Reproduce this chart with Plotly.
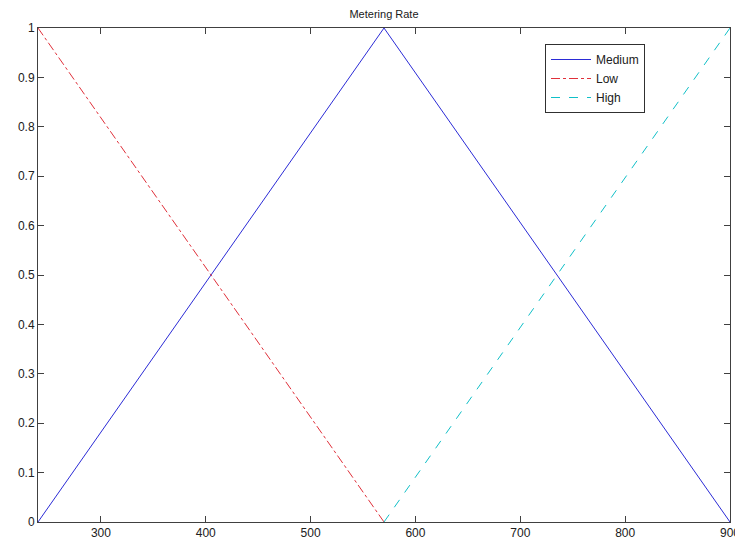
import plotly.graph_objects as go

x_medium = [240, 570, 900]
y_medium = [0, 1, 0]
x_low = [240, 570]
y_low = [1, 0]
x_high = [570, 900]
y_high = [0, 1]
x_ticks = [300, 400, 500, 600, 700, 800, 900]
y_ticks = [0, 0.1, 0.2, 0.3, 0.4, 0.5, 0.6, 0.7, 0.8, 0.9, 1]
y_ticklabels = ["0", "0.1", "0.2", "0.3", "0.4", "0.5", "0.6", "0.7", "0.8", "0.9", "1"]

fig = go.Figure()
fig.add_trace(go.Scatter(x=x_medium, y=y_medium, mode="lines", name="Medium",
                         line=dict(color="#2b2bd6", width=1)))
fig.add_trace(go.Scatter(x=x_low, y=y_low, mode="lines", name="Low",
                         line=dict(color="#e0303a", width=1, dash="dashdot")))
fig.add_trace(go.Scatter(x=x_high, y=y_high, mode="lines", name="High",
                         line=dict(color="#10c0c8", width=1, dash="dash")))

axis_common = dict(showgrid=False, zeroline=False, showline=True, linecolor="#404040",
                   linewidth=1, mirror="allticks", ticks="inside", ticklen=6,
                   tickcolor="#404040", tickfont=dict(size=12, color="#202020"),
                   automargin=False, ticklabeloverflow="allow")

fig.update_layout(
    width=735, height=540,
    margin=dict(l=38, r=5, t=28, b=18),
    paper_bgcolor="white", plot_bgcolor="white",
    font=dict(family="Liberation Sans, Arial, sans-serif", size=12, color="#202020"),
    title=dict(text="Metering Rate", x=(38 + 730) / 2 / 735, xanchor="center",
               y=1 - 14 / 540, yanchor="middle", font=dict(size=11)),
    xaxis=dict(range=[240, 900], tickvals=x_ticks, **axis_common),
    yaxis=dict(range=[0, 1], tickvals=y_ticks, ticktext=y_ticklabels, **axis_common),
    legend=dict(x=(545 - 38) / 692, y=(522 - 44) / 494, xanchor="left", yanchor="top",
                bordercolor="#303030", borderwidth=1, bgcolor="white",
                font=dict(size=12), tracegroupgap=0, itemwidth=40),
    showlegend=True,
)

fig.write_html("out.html", config={"displayModeBar": False},
               post_script="document.body.style.margin='0';document.body.style.padding='0';")
